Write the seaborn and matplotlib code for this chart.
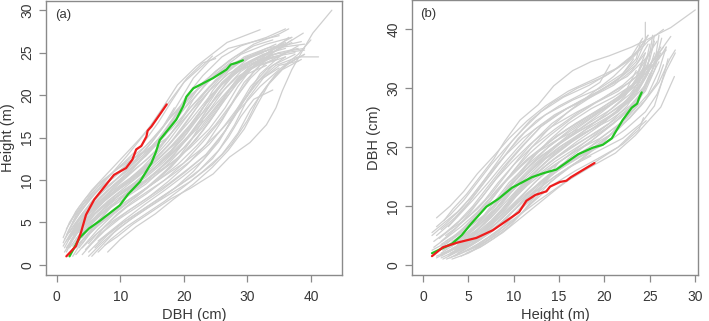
import pandas as pd
import matplotlib
matplotlib.use("Agg")
import matplotlib.pyplot as plt
import seaborn as sns

# individual tree trajectories: DBH (cm) and height (m)
gray_dbh = [
    [1.0, 2.0, 3.5, 5.5, 8.0, 11.0, 14.0, 16.5, 19.0, 22.0, 26.8, 32.0],
    [1.5, 3.0, 5.0, 7.5, 10.5, 13.5, 16.0, 18.0, 20.0, 23.0, 24.5],
    [2.0, 3.5, 5.5, 8.0, 11.0, 14.0, 17.0, 20.0, 23.0, 27.0, 31.0, 35.0, 36.5],
    [1.2, 2.5, 4.5, 7.0, 10.0, 13.0, 16.0, 19.0, 22.0, 25.0, 29.0, 33.0, 37.0],
    [2.5, 4.0, 6.0, 9.0, 12.0, 15.0, 18.0, 21.0, 24.5, 28.0, 32.0, 36.0, 38.8],
    [3.0, 4.5, 6.5, 9.0, 12.0, 15.0, 18.0, 21.0, 24.0, 27.0, 30.0, 34.0, 39.0],
    [1.8, 3.0, 5.0, 7.5, 10.5, 14.0, 17.5, 21.0, 24.0, 27.0, 30.0, 34.0, 39.0],
    [2.2, 3.5, 5.0, 7.0, 9.5, 12.5, 16.0, 19.5, 23.0, 26.0, 28.5, 31.0, 35.0, 38.0],
    [4.0, 5.5, 7.5, 10.0, 13.0, 16.5, 20.0, 23.5, 26.5, 29.0, 31.5, 34.5, 38.0, 41.2],
    [7.5, 9.5, 12.0, 15.0, 18.0, 21.0, 24.6, 27.2, 30.4, 33.0, 34.5, 35.5, 37.0, 38.5, 40.3, 43.3],
    [3.0, 5.0, 8.0, 11.0, 14.0, 17.0, 20.0, 23.0, 26.0, 29.0, 32.0, 35.0, 38.0, 40.0],
    [5.0, 7.0, 9.5, 12.5, 15.5, 18.5, 21.5, 24.5, 27.0, 29.0, 31.0, 34.0],
    [1.5, 2.5, 4.0, 6.0, 8.5, 11.0, 13.0],
    [2.0, 3.5, 5.5, 8.0, 10.5, 13.0, 15.5, 18.0, 20.0, 22.0, 24.0],
    [4.5, 6.0, 8.5, 11.5, 14.5, 17.5, 20.5, 23.5, 26.0, 28.0, 30.5, 33.0, 36.5, 39.0],
    [3.0, 4.5, 6.5, 9.0, 12.0, 15.0, 18.0, 21.0, 24.0, 26.5, 29.0, 32.0, 35.5, 38.5],
    [1.2, 2.5, 4.5, 7.0, 10.0, 13.0, 16.0, 18.5, 20.5, 23.0, 26.0, 29.0, 33.0, 36.0],
    [2.8, 4.0, 6.0, 8.5, 11.5, 14.5, 17.5, 20.0, 22.5, 25.0, 28.0, 31.5, 35.0],
    [2.0, 3.0, 4.5, 6.5, 9.0, 11.5, 14.0, 16.5, 18.5],
    [3.5, 5.0, 7.0, 9.5, 12.5, 15.5, 18.5, 21.5, 24.5, 27.5, 30.5, 34.0, 37.5],
    [6.0, 8.0, 10.5, 13.5, 16.5, 19.5, 22.5, 25.5, 28.0, 30.0, 32.5, 35.0, 38.0],
    [1.5, 2.5, 4.0, 6.0, 8.5, 11.0, 13.5, 16.0, 18.5, 21.0, 23.5, 26.0, 29.0, 32.5],
    [2.5, 4.0, 6.0, 8.5, 11.5, 14.5, 17.5, 20.5, 23.0, 25.5, 28.0, 31.0, 34.5, 36.5],
    [5.5, 7.0, 9.0, 11.5, 14.5, 17.5, 21.0, 24.5, 27.5, 30.0, 32.0, 34.5, 37.0, 39.0],
    [1.0, 2.0, 3.5, 5.5, 8.0, 10.5, 13.0, 15.5, 18.0, 20.5, 23.0, 25.0],
    [3.0, 4.5, 6.5, 9.0, 12.0, 15.0, 18.0, 21.0, 24.0, 27.0, 30.5, 34.0, 37.0],
    [4.0, 5.5, 7.5, 10.0, 13.0, 16.0, 19.0, 22.0, 25.0, 27.5, 29.5, 32.0, 36.0],
    [2.0, 3.5, 5.5, 8.0, 11.0, 14.0, 17.0, 20.0, 23.0, 25.5, 28.0, 30.5, 33.5],
    [1.5, 3.0, 5.0, 7.5, 10.5, 13.5, 16.5, 19.5, 22.0, 24.5, 27.0, 29.5, 33.0, 36.0],
    [4.5, 6.0, 8.0, 10.5, 13.5, 16.5, 19.5, 22.5, 25.5, 28.5, 31.5, 34.5],
    [2.5, 4.0, 6.0, 8.5, 11.0, 13.5, 16.0, 18.0, 19.5],
    [3.5, 5.0, 7.0, 9.5, 12.5, 15.5, 18.5, 21.0, 23.0],
    [2.0, 3.5, 5.5, 8.0, 11.0, 14.0, 17.0, 19.5, 22.0, 25.0, 28.0, 31.0, 34.0],
    [6.5, 8.5, 11.0, 14.0, 17.0, 20.0, 23.0, 26.0, 28.5, 30.5, 33.0, 35.5, 38.5],
    [3.0, 4.5, 6.5, 9.0, 12.0, 15.0, 17.5],
    [1.8, 3.0, 5.0, 7.5, 10.0, 12.5, 15.0, 17.5, 19.5, 21.5, 24.0, 27.0, 31.0, 35.0],
    [2.5, 4.0, 6.0, 8.5, 11.0, 14.0, 17.0, 20.0, 22.5, 24.5, 27.0, 30.0, 33.0],
    [1.0, 2.0, 3.5, 5.5, 8.0, 11.0, 14.0, 17.0, 19.5, 21.5, 24.0, 27.0, 30.0],
    [3.5, 5.0, 7.0, 9.5, 12.5, 15.5, 18.5, 21.0, 23.5, 26.0, 29.0, 32.5, 36.0],
    [2.0, 3.5, 5.5, 8.0, 11.0, 14.0, 17.0, 20.0, 23.0, 25.5, 27.5, 30.0, 33.0, 35.0],
    [5.0, 6.5, 8.5, 11.0, 14.0, 17.0, 20.0, 22.5, 25.0, 27.5, 30.0, 33.0],
    [1.5, 2.8, 4.5, 6.5, 9.0, 12.0, 15.0, 18.0, 21.0, 23.5, 26.0, 29.0, 32.0, 35.5],
    [4.0, 5.5, 7.5, 10.0, 13.0, 16.0, 19.0, 22.0, 24.5, 27.0, 29.5, 32.5, 35.0, 37.0],
    [3.0, 4.5, 6.5, 9.0, 12.0, 15.0, 18.0, 20.5, 23.0, 25.5, 28.5, 31.5, 34.0],
    [2.5, 3.8, 5.5, 7.5, 10.0, 12.5, 15.0, 17.5, 20.0, 22.5, 25.0, 27.5],
    [5.0, 6.5, 8.5, 11.0, 14.0, 17.0, 20.0, 23.0, 26.0, 28.5, 31.0, 34.0, 37.0],
    [1.2, 2.5, 4.0, 6.0, 8.5, 11.5, 14.5, 17.5, 20.5, 23.0, 25.5, 28.0, 31.0, 34.5],
    [3.5, 5.0, 7.0, 9.5, 12.5, 15.5, 18.5, 21.5, 24.0, 26.5, 29.0, 32.0, 35.0],
    [2.2, 3.5, 5.5, 8.0, 11.0, 14.0, 17.0, 20.0, 22.5, 25.0, 27.5, 30.5, 34.0],
    [6.0, 7.5, 9.5, 12.0, 15.0, 18.0, 21.0, 24.0, 26.5, 29.0, 31.5, 34.0, 37.5],
    [8.0, 10.0, 12.5, 15.5, 18.5, 21.5, 24.5, 27.0, 29.5, 31.5, 33.5, 36.0, 39.0],
    [5.0, 7.0, 9.5, 12.5, 15.5, 18.5, 21.5, 24.0, 26.5, 28.5, 30.5, 33.0, 36.0],
    [4.0, 6.0, 8.5, 11.5, 14.5, 17.5, 20.5, 23.5, 26.0, 28.0, 30.0, 32.0, 35.0, 38.0],
    [6.5, 8.5, 11.0, 14.0, 17.0, 20.0, 23.0, 25.5, 27.5, 29.5, 32.0, 35.0],
    [3.0, 4.5, 6.5, 9.0, 12.0, 15.0, 18.0, 21.0, 24.0, 26.5, 28.5, 31.0, 34.0, 36.0],
]
gray_height = [
    [2.6, 4.2, 6.0, 8.0, 10.2, 12.8, 15.6, 18.3, 21.2, 23.4, 26.2, 27.7],
    [3.5, 5.8, 8.0, 10.0, 12.0, 14.2, 16.8, 19.2, 21.5, 23.5, 24.6],
    [2.5, 4.6, 6.8, 8.8, 10.8, 13.0, 15.8, 18.8, 21.5, 24.0, 26.0, 27.2, 27.8],
    [3.0, 4.5, 6.5, 8.5, 10.5, 12.5, 14.8, 17.5, 20.0, 22.5, 24.8, 26.0, 26.8],
    [4.0, 6.0, 7.8, 9.8, 12.0, 14.5, 17.5, 20.0, 22.0, 23.8, 25.0, 26.0, 27.3],
    [5.5, 7.0, 8.8, 10.5, 12.5, 14.0, 16.0, 18.5, 21.0, 23.0, 24.5, 25.5, 26.0],
    [2.0, 3.5, 5.5, 7.5, 9.3, 11.5, 14.0, 17.0, 19.8, 22.0, 23.5, 24.8, 25.3],
    [1.5, 2.8, 4.5, 6.3, 8.0, 9.8, 11.8, 14.0, 16.8, 19.5, 22.0, 23.8, 25.0, 25.5],
    [1.2, 2.5, 4.0, 5.5, 7.0, 8.8, 10.8, 13.0, 15.8, 18.8, 21.5, 23.5, 24.5, 24.5],
    [2.3, 3.3, 4.8, 6.3, 7.8, 9.0, 10.7, 12.7, 14.4, 16.5, 18.5, 20.5, 23.0, 25.0, 27.3, 30.0],
    [2.0, 3.8, 5.8, 7.5, 9.0, 10.5, 12.0, 13.8, 16.0, 18.5, 21.0, 23.0, 24.8, 26.5],
    [1.5, 3.0, 4.5, 6.0, 7.5, 9.0, 10.5, 12.5, 15.0, 17.5, 19.5, 20.6],
    [4.2, 5.5, 7.0, 8.5, 10.0, 11.5, 12.8],
    [3.0, 4.8, 6.5, 8.0, 9.5, 11.0, 12.5, 14.5, 16.5, 18.5, 20.5],
    [1.8, 3.0, 4.8, 6.5, 8.0, 9.8, 11.8, 14.2, 17.0, 19.5, 22.0, 23.8, 25.2, 25.5],
    [1.2, 2.5, 4.2, 6.0, 7.8, 9.5, 11.5, 14.0, 16.8, 19.5, 22.0, 24.0, 25.8, 26.3],
    [2.0, 3.8, 6.0, 8.0, 10.0, 12.2, 14.8, 17.5, 20.0, 22.3, 24.5, 25.8, 26.8, 27.8],
    [3.2, 5.0, 7.0, 8.6, 10.2, 12.0, 14.5, 17.0, 19.5, 21.8, 23.5, 24.8, 25.8],
    [4.8, 6.3, 7.8, 9.5, 11.0, 12.5, 14.0, 16.0, 18.5],
    [3.0, 4.5, 6.0, 7.5, 9.0, 10.8, 13.0, 15.8, 18.5, 21.0, 23.0, 24.5, 25.0],
    [2.0, 3.5, 5.0, 6.5, 8.0, 9.5, 11.2, 13.5, 16.5, 19.5, 22.0, 23.5, 24.0],
    [1.5, 3.0, 4.8, 6.5, 8.2, 9.8, 11.5, 13.5, 16.0, 18.5, 20.5, 22.5, 24.0, 25.0],
    [2.2, 3.8, 5.5, 7.0, 8.5, 10.2, 12.3, 14.8, 17.5, 20.3, 22.5, 24.2, 25.5, 26.8],
    [1.0, 2.2, 3.8, 5.3, 6.8, 8.2, 9.8, 11.8, 14.2, 17.0, 20.0, 22.5, 24.0, 24.8],
    [3.2, 5.0, 6.8, 8.8, 10.8, 12.8, 14.8, 17.0, 19.5, 22.0, 23.8, 24.3],
    [4.0, 5.5, 7.2, 9.0, 11.0, 13.0, 15.5, 18.0, 20.5, 22.5, 24.0, 25.0, 26.5],
    [2.5, 4.0, 5.5, 7.0, 8.5, 10.0, 11.8, 14.0, 16.5, 19.0, 21.5, 23.5, 24.5],
    [2.0, 3.5, 5.0, 6.5, 8.0, 9.5, 11.5, 13.8, 16.2, 18.8, 21.5, 23.2, 24.5],
    [2.8, 4.5, 6.2, 7.8, 9.3, 11.0, 13.2, 15.8, 18.5, 21.0, 23.0, 24.5, 25.5, 26.0],
    [4.5, 6.0, 7.5, 9.0, 10.8, 12.8, 15.0, 17.5, 20.0, 22.2, 23.5, 24.2],
    [3.5, 5.2, 7.0, 8.8, 10.5, 12.5, 14.5, 16.8, 18.5],
    [2.0, 3.5, 5.0, 6.5, 8.0, 9.8, 12.0, 14.5, 17.0],
    [3.8, 5.5, 7.5, 9.3, 11.0, 12.8, 15.2, 17.8, 20.5, 22.8, 24.5, 25.8, 26.5],
    [1.5, 3.0, 4.5, 6.0, 7.5, 9.2, 11.0, 13.0, 15.5, 18.3, 21.0, 23.0, 24.2],
    [6.0, 7.5, 9.2, 11.0, 12.5, 13.8, 15.0],
    [3.0, 4.8, 6.8, 8.8, 10.5, 12.3, 14.5, 17.0, 19.5, 22.0, 24.0, 25.5, 26.3, 27.0],
    [1.0, 2.8, 4.8, 6.8, 8.5, 10.5, 12.5, 15.0, 17.8, 20.5, 22.8, 24.5, 25.2],
    [2.2, 3.5, 5.2, 7.0, 8.8, 10.5, 12.3, 14.5, 17.0, 19.5, 21.8, 23.5, 24.5],
    [4.5, 6.0, 7.5, 9.0, 10.5, 12.2, 14.2, 16.5, 19.0, 21.5, 23.5, 24.8, 25.5],
    [1.2, 2.5, 4.0, 5.5, 7.2, 9.0, 11.0, 13.2, 15.8, 18.5, 21.0, 23.0, 24.2, 24.5],
    [3.5, 5.0, 6.8, 8.5, 10.0, 11.8, 13.8, 16.0, 18.5, 20.8, 22.5, 23.5],
    [2.0, 3.5, 5.2, 7.0, 8.5, 10.0, 11.8, 14.0, 16.5, 19.0, 21.2, 23.0, 24.0, 24.8],
    [3.2, 4.8, 6.3, 7.8, 9.2, 10.8, 12.5, 14.8, 17.5, 20.0, 22.5, 24.5, 26.0, 26.8],
    [2.5, 4.2, 6.0, 7.8, 9.5, 11.5, 13.5, 15.8, 18.5, 21.0, 23.0, 24.2, 24.5],
    [5.0, 6.5, 8.0, 9.5, 11.0, 12.8, 14.8, 17.0, 19.0, 21.0, 22.8, 24.2],
    [2.5, 3.8, 5.2, 6.8, 8.3, 10.0, 12.0, 14.5, 17.2, 20.0, 22.8, 25.0, 26.2],
    [1.5, 3.0, 4.5, 6.0, 7.5, 9.0, 10.8, 13.0, 15.5, 18.0, 20.8, 23.0, 24.8, 26.0],
    [3.8, 5.2, 6.8, 8.3, 9.8, 11.5, 13.5, 15.8, 18.2, 20.8, 22.8, 24.2, 25.0],
    [2.8, 4.2, 5.8, 7.3, 8.8, 10.3, 12.2, 14.5, 17.0, 19.8, 22.3, 24.0, 25.2],
    [3.0, 4.5, 6.0, 7.5, 9.0, 10.5, 12.2, 14.2, 16.5, 19.0, 21.5, 23.5, 24.8],
    [1.5, 3.0, 4.5, 6.0, 7.8, 9.5, 11.5, 13.5, 16.0, 18.8, 21.5, 23.5, 24.8],
    [1.0, 2.5, 4.2, 5.8, 7.3, 9.0, 11.0, 13.2, 15.8, 18.5, 21.0, 23.0, 24.5],
    [2.0, 3.5, 5.0, 6.5, 8.0, 9.5, 11.2, 13.0, 15.2, 17.5, 20.0, 22.5, 24.5, 25.8],
    [2.8, 4.0, 5.5, 7.2, 8.8, 10.5, 12.3, 14.5, 17.0, 19.5, 21.8, 23.2],
    [3.0, 4.5, 6.0, 7.5, 9.0, 10.5, 12.0, 13.8, 16.0, 18.5, 21.0, 23.5, 25.5, 26.2],
]

# the two highlighted trees
red_dbh = [1.5, 3.0, 3.8, 4.6, 5.9, 7.5, 9.0, 10.9, 11.9, 12.5, 13.3, 14.1, 14.3, 14.9, 16.2, 17.3]
red_height = [1.0, 2.2, 3.8, 5.9, 7.7, 9.2, 10.6, 11.4, 12.4, 13.6, 14.0, 15.1, 15.8, 16.3, 17.7, 18.9]
green_dbh = [2.0, 3.6, 5.1, 6.8, 9.9, 11.2, 13.1, 14.9, 15.6, 16.2, 17.5, 18.8, 19.9, 20.4, 21.5,
             24.6, 26.7, 27.4, 28.3, 29.3]
green_height = [1.0, 3.2, 4.3, 5.2, 7.0, 8.3, 9.8, 12.0, 13.3, 14.7, 15.9, 17.1, 18.7, 19.8, 20.8,
                22.0, 23.0, 23.6, 23.8, 24.1]

rows = []
for i, (d, h) in enumerate(zip(gray_dbh, gray_height)):
    for k in range(len(d)):
        rows.append({'tree': i, 'step': k, 'DBH': d[k], 'Height': h[k]})
gray = pd.DataFrame(rows)
red = pd.DataFrame({'DBH': red_dbh, 'Height': red_height})
green = pd.DataFrame({'DBH': green_dbh, 'Height': green_height})

sns.set_style('white')
plt.rcParams['font.family'] = ['Liberation Sans', 'DejaVu Sans']

txt = '#383838'
edge = '#8a8a8a'
fig = plt.figure(figsize=(7.09, 3.21), dpi=100)
ax1 = fig.add_axes([0.0649, 0.1433, 0.4175, 0.854])
ax2 = fig.add_axes([0.5811, 0.1433, 0.4034, 0.857])


def draw(ax, x, y):
    sns.lineplot(data=gray, x=x, y=y, units='tree', estimator=None, sort=False,
                 color='#cfcfcf', lw=0.9, ax=ax)
    sns.lineplot(data=green, x=x, y=y, estimator=None, sort=False,
                 color='#22c422', lw=1.6, ax=ax)
    sns.lineplot(data=red, x=x, y=y, estimator=None, sort=False,
                 color='#ee1c1c', lw=1.6, ax=ax)
    for s in ax.spines.values():
        s.set_color(edge)
        s.set_linewidth(1.0)
    ax.tick_params(direction='out', length=5, width=0.9, color=edge,
                   labelsize=10, labelcolor=txt, bottom=True, left=True)
    ax.tick_params(axis='x', pad=6)


draw(ax1, 'DBH', 'Height')
ax1.set(xlim=(-1.7, 44.9), ylim=(-1.2, 31.1), xticks=[0, 10, 20, 30, 40],
        yticks=[0, 5, 10, 15, 20, 25, 30])
ax1.set_xlabel('DBH (cm)', fontsize=10.5, color=txt, labelpad=3)
ax1.set_ylabel('Height (m)', fontsize=10.5, color=txt)
for lab in ax1.get_yticklabels():
    lab.set_rotation(90)
    lab.set_va('center')
ax1.text(0.03, 0.97, '(a)', transform=ax1.transAxes, ha='left', va='top',
         fontsize=9.5, color=txt)

draw(ax2, 'Height', 'DBH')
ax2.set(xlim=(-1.2, 30.3), ylim=(-1.7, 45.0), xticks=[0, 5, 10, 15, 20, 25, 30],
        yticks=[0, 10, 20, 30, 40])
ax2.set_xlabel('Height (m)', fontsize=10.5, color=txt, labelpad=3)
ax2.set_ylabel('DBH (cm)', fontsize=10.5, color=txt)
for lab in ax2.get_yticklabels():
    lab.set_rotation(90)
    lab.set_va('center')
ax2.text(0.03, 0.97, '(b)', transform=ax2.transAxes, ha='left', va='top',
         fontsize=9.5, color=txt)

fig.savefig('out.png', dpi=100)
